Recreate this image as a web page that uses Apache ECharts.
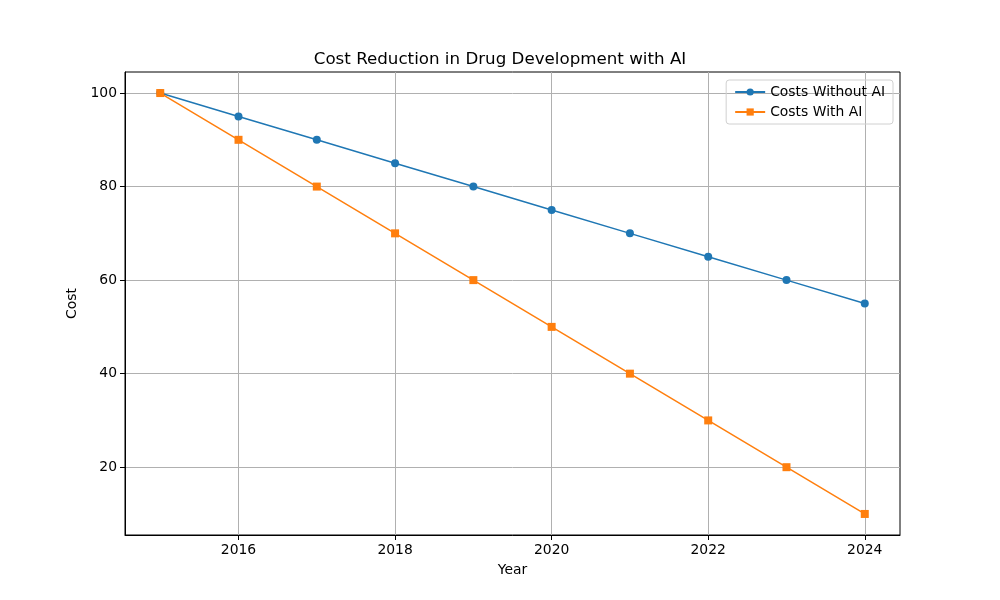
<!DOCTYPE html>
<html><head><meta charset="utf-8">
<script src="https://cdn.jsdelivr.net/npm/echarts@6/dist/echarts.min.js"></script>
<style>html,body{margin:0;padding:0;background:#fff}#c{width:1000px;height:600px}</style>
</head><body><div id="c"></div>
<script>
const years = [2015,2016,2017,2018,2019,2020,2021,2022,2023,2024];
const costsWithoutAI = [100,95,90,85,80,75,70,65,60,55];
const costsWithAI = [100,90,80,70,60,50,40,30,20,10];
const xTicks = [2016,2018,2020,2022,2024];
const yTicks = [20,40,60,80,100];

const font = 'DejaVu Sans';
const chart = echarts.init(document.getElementById('c'), null, {renderer:'canvas'});
chart.setOption({
  animation:false,
  backgroundColor:'#fff',
  title:{text:'Cost Reduction in Drug Development with AI', left:'center', top:46,
    textStyle:{fontFamily:font, fontSize:16.7, fontWeight:'normal', color:'#000'}},
  legend:{orient:'vertical', right:107, top:80, padding:[5,8,5,8], itemGap:6,
    borderColor:'#d0d0d0', borderWidth:1, borderRadius:3, itemWidth:30, itemHeight:9,
    textStyle:{fontFamily:font, fontSize:13.9, color:'#000'},
    data:['Costs Without AI','Costs With AI']},
  grid:{left:125, right:100, top:72, bottom:65, show:true, borderColor:'#000', borderWidth:1, containLabel:false},
  xAxis:{type:'value', min:2014.55, max:2024.45, name:'Year', nameLocation:'middle', nameGap:28,
    nameTextStyle:{fontFamily:font, fontSize:13.9, color:'#000'},
    axisLine:{show:true, lineStyle:{color:'#000'}},
    axisTick:{show:true, customValues:xTicks, length:5, lineStyle:{color:'#000'}},
    axisLabel:{customValues:xTicks, formatter:v=>String(v), fontFamily:font, fontSize:13.9, color:'#000', margin:8},
    splitLine:{show:true, lineStyle:{color:'#b0b0b0', width:1}}},
  yAxis:{type:'value', min:5.5, max:104.5, name:'Cost', nameLocation:'middle', nameGap:41,
    nameTextStyle:{fontFamily:font, fontSize:13.9, color:'#000'},
    axisLine:{show:true, lineStyle:{color:'#000'}},
    axisTick:{show:true, customValues:yTicks, length:5, lineStyle:{color:'#000'}},
    axisLabel:{customValues:yTicks, fontFamily:font, fontSize:13.9, color:'#000', margin:8},
    splitLine:{show:true, lineStyle:{color:'#b0b0b0', width:1}}},
  series:[
    {name:'Costs Without AI', type:'line', data:years.map((y,i)=>[y,costsWithoutAI[i]]),
     color:'#1f77b4', symbol:'circle', symbolSize:8, lineStyle:{width:1.5}, itemStyle:{color:'#1f77b4'}},
    {name:'Costs With AI', type:'line', data:years.map((y,i)=>[y,costsWithAI[i]]),
     color:'#ff7f0e', symbol:'rect', symbolSize:8, lineStyle:{width:1.5}, itemStyle:{color:'#ff7f0e'}}
  ]
});
</script></body></html>
